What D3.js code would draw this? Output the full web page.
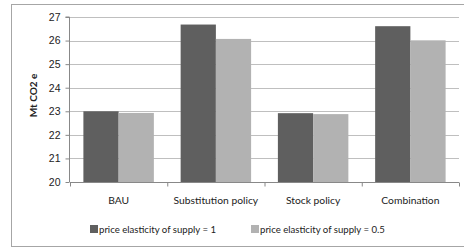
<!DOCTYPE html>
<html>
<head>
<meta charset="utf-8">
<script src="https://cdn.jsdelivr.net/npm/d3@7"></script>
<style>
  body { margin: 0; background: #fff; }
  svg { display: block; font-family: Lato, "Open Sans", sans-serif; }
</style>
</head>
<body>
<svg width="464" height="248"></svg>
<script>
// Chart data.
const categories = ["BAU", "Substitution policy", "Stock policy", "Combination"];
const seriesNames = ["price elasticity of supply = 1", "price elasticity of supply = 0.5"];
const elasticity1 = [23.0, 26.68, 22.92, 26.61];
const elasticity05 = [22.93, 26.07, 22.88, 26.01];
const yTicks = [20, 21, 22, 23, 24, 25, 26, 27];

const colors = ["#5f5f5f", "#b2b2b2"];

const svg = d3.select("svg");

// Outer chart border.
svg.append("rect")
    .attr("x", 11.5).attr("y", 4.5)
    .attr("width", 460).attr("height", 242)
    .attr("fill", "none")
    .attr("stroke", "#a6a6a6");

const plot = { left: 70, right: 459, top: 17, bottom: 182 };

const y = d3.scaleLinear().domain([20, 27]).range([plot.bottom, plot.top]);
const x = d3.scaleBand().domain(categories).range([plot.left, plot.right]);
const xs = d3.scaleBand().domain(seriesNames).range([0, x.bandwidth()]).paddingInner(0).paddingOuter(0.38);

// Gridlines.
svg.append("g")
    .selectAll("line")
    .data(yTicks.slice(1))
    .join("line")
    .attr("x1", plot.left).attr("x2", plot.right)
    .attr("y1", d => Math.round(y(d)) + 0.5).attr("y2", d => Math.round(y(d)) + 0.5)
    .attr("stroke", "#bfbfbf");

// Bars.
const series = [elasticity1, elasticity05];
svg.append("g")
    .selectAll("g")
    .data(series)
    .join("g")
    .attr("fill", (d, i) => colors[i])
    .selectAll("rect")
    .data((d, i) => d.map((v, j) => ({ cat: categories[j], name: seriesNames[i], v })))
    .join("rect")
    .attr("x", d => x(d.cat) + xs(d.name))
    .attr("width", xs.bandwidth())
    .attr("y", d => y(d.v))
    .attr("height", d => y(20) - y(d.v));

// Y axis.
const yAxis = svg.append("g")
    .attr("transform", `translate(${plot.left - 0.5},0)`)
    .call(d3.axisLeft(y).tickValues(yTicks).tickSize(4).tickPadding(5).tickFormat(d3.format("d")));
yAxis.select(".domain").attr("stroke", "#888").attr("d", `M-4,${plot.top}H0V${plot.bottom}`);
yAxis.selectAll(".tick line").attr("stroke", "#888");
yAxis.selectAll("text").attr("font-size", 10.5).attr("fill", "#222");

// X axis.
const xAxis = svg.append("g")
    .attr("transform", `translate(0,${plot.bottom + 0.5})`);
xAxis.append("line")
    .attr("x1", plot.left).attr("x2", plot.right)
    .attr("stroke", "#888");
xAxis.selectAll("line.tick")
    .data(categories.concat(["end"]))
    .join("line")
    .attr("class", "tick")
    .attr("x1", (d, i) => plot.left + i * x.step() + 0.5)
    .attr("x2", (d, i) => plot.left + i * x.step() + 0.5)
    .attr("y1", 0).attr("y2", 4)
    .attr("stroke", "#888");
xAxis.selectAll("text")
    .data(categories)
    .join("text")
    .attr("x", d => x(d) + x.bandwidth() / 2)
    .attr("y", 21)
    .attr("text-anchor", "middle")
    .attr("font-size", 10.3)
    .attr("fill", "#222")
    .text(d => d);

// Y axis title.
svg.append("text")
    .attr("transform", `translate(37,${(plot.top + plot.bottom) / 2 - 4}) rotate(-90)`)
    .attr("text-anchor", "middle")
    .attr("font-size", 10)
    .attr("font-weight", "bold")
    .attr("fill", "#222")
    .text("Mt CO2 e");

// Legend.
const legendX = [90, 251];
const legend = svg.append("g")
    .selectAll("g")
    .data(seriesNames)
    .join("g")
    .attr("transform", (d, i) => `translate(${legendX[i]},229)`);
legend.append("rect")
    .attr("x", 0).attr("y", -4)
    .attr("width", 8).attr("height", 8)
    .attr("fill", (d, i) => colors[i]);
legend.append("text")
    .attr("x", 9).attr("y", 4)
    .attr("font-size", 9.6)
    .attr("fill", "#222")
    .text(d => d);
</script>
</body>
</html>
